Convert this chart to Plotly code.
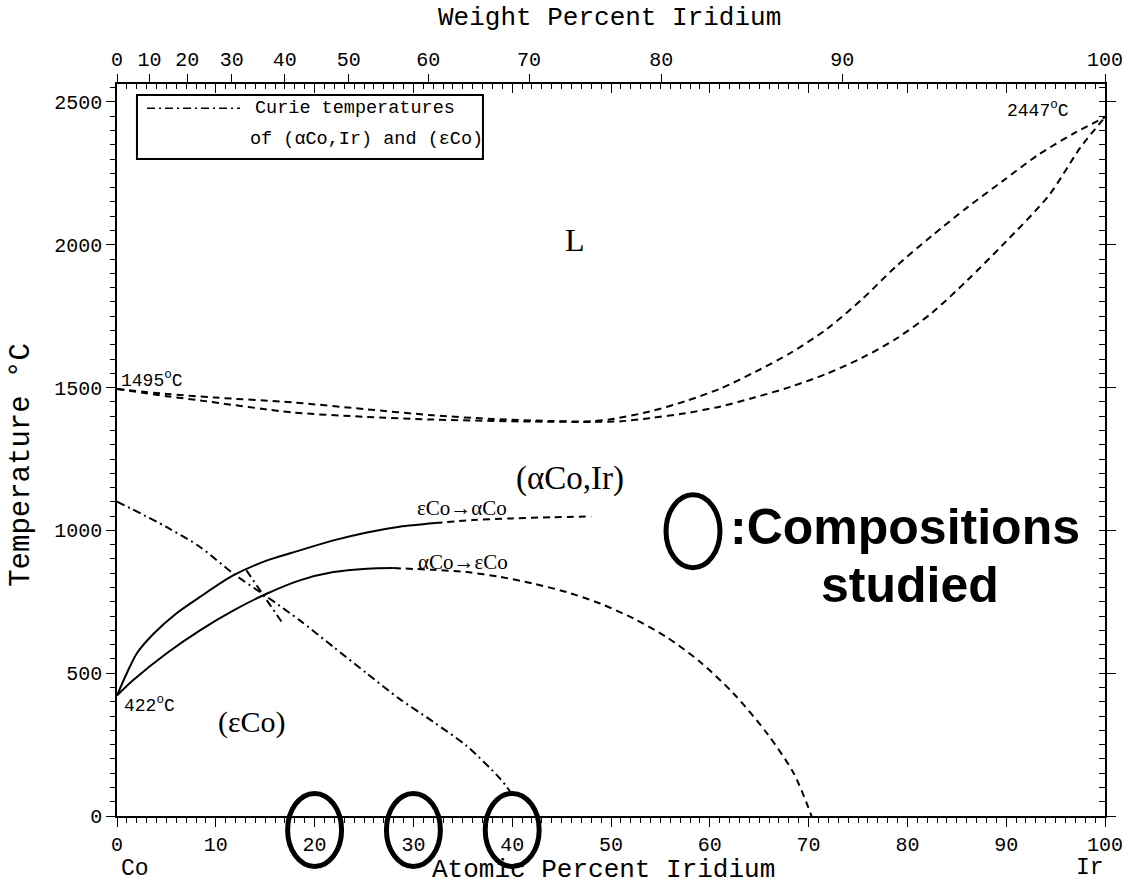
import plotly.graph_objects as go

# ---------------- data (atomic % Ir, temperature °C) ----------------
liq_x = [0, 5, 10, 17.8, 25, 32, 38, 44, 48, 50, 53.9, 57.5, 61.1, 64.6, 68.2, 71.8, 75.4, 78.9, 82.5, 86.1, 89.6, 93.2, 96.8, 100]
liq_T = [1495, 1478, 1465, 1448, 1425, 1403, 1390, 1383, 1382, 1389, 1416, 1452, 1497, 1555, 1622, 1704, 1809, 1926, 2032, 2132, 2222, 2314, 2389, 2447]

sol_x = [0, 5, 8.4, 17.8, 25, 32, 42, 48, 51, 53.9, 57.5, 61.1, 64.6, 68.2, 71.8, 75.4, 78.9, 82.5, 86.1, 89.6, 94.3, 97.5, 100]
sol_T = [1495, 1470, 1455, 1413, 1398, 1388, 1381, 1380, 1382, 1393, 1410, 1434, 1466, 1503, 1548, 1604, 1672, 1762, 1877, 1998, 2172, 2340, 2447]

e2a_solid_x = [0, 0.98, 2.0, 3.7, 6.0, 8.4, 11.8, 15.2, 18.5, 21.9, 25.3, 28.6, 32.2]
e2a_solid_T = [422, 499, 569, 638, 709, 767, 843, 895, 930, 965, 993, 1013, 1026]
e2a_dash_x = [32.2, 36, 40, 44, 48]
e2a_dash_T = [1026, 1036, 1042, 1046, 1049]

a2e_solid_x = [0, 1.65, 5.0, 8.4, 11.8, 15.2, 18.5, 21.9, 25.3, 28.0]
a2e_solid_T = [422, 476, 569, 650, 720, 779, 825, 854, 866, 868]
a2e_dash_x = [28.0, 32.0, 35.4, 38.8, 42.1, 45.5, 48.9, 52.3, 55.6, 59.0, 62.4, 65.8, 68.5, 70.3]
a2e_dash_T = [868, 862, 854, 837, 814, 784, 744, 691, 627, 540, 429, 289, 149, 0]

curie_x = [0, 5.0, 8.4, 11.8, 15.2, 18.5, 21.9, 25.3, 28.6, 32.0, 35.4, 38.8, 39.8]
curie_T = [1101, 1012, 942, 848, 767, 685, 592, 499, 410, 330, 245, 130, 85]
curie_eps_x = [13.1, 16.8]
curie_eps_T = [860, 673]

studied = [20, 30, 40]

at_ticks = list(range(0, 101, 10))
wt_ticks = list(range(0, 101, 10))
T_ticks = list(range(0, 2501, 500))

M_CO, M_IR = 58.933, 192.217


def wt_to_at(w):
    a = w / M_IR
    b = (100 - w) / M_CO
    return 100 * a / (a + b)


YMAX = 2563
MONO = "Liberation Mono"
SERIF = "Liberation Serif"
LW = 2
DASH = "7px,5px"
DASHDOT = "8px,4px,2px,4px"

fig = go.Figure()


def add(x, y, dash, smooth=True):
    fig.add_trace(go.Scatter(x=x, y=y, mode="lines",
                             line=dict(color="black", width=LW, dash=dash,
                                       shape="spline" if smooth else "linear", smoothing=0.8),
                             showlegend=False, hoverinfo="skip"))


add(liq_x, liq_T, DASH)
add(sol_x, sol_T, DASH)
add(e2a_solid_x, e2a_solid_T, "solid")
add(e2a_dash_x, e2a_dash_T, DASH)
add(a2e_solid_x, a2e_solid_T, "solid")
add(a2e_dash_x, a2e_dash_T, DASH)
add(curie_x, curie_T, DASHDOT)
add(curie_eps_x, curie_eps_T, DASHDOT, smooth=False)

# empty traces so the extra axes exist
fig.add_trace(go.Scatter(x=[], y=[], xaxis="x2", yaxis="y", showlegend=False))
fig.add_trace(go.Scatter(x=[], y=[], xaxis="x3", yaxis="y", showlegend=False))
fig.add_trace(go.Scatter(x=[], y=[], xaxis="x", yaxis="y2", showlegend=False))

axcommon = dict(showgrid=False, zeroline=False, showline=True, linecolor="black", linewidth=1.5,
                tickcolor="black", tickwidth=1.3)
TICKFONT = dict(family=MONO, size=20, color="black")

fig.update_layout(
    width=1134, height=886,
    margin=dict(l=117, r=29, t=84, b=70),
    paper_bgcolor="white", plot_bgcolor="white",
    xaxis=dict(range=[0, 100], tickvals=at_ticks, ticks="outside", ticklen=9,
               minor=dict(dtick=1, ticks="outside", ticklen=5, tickcolor="black"),
               tickfont=TICKFONT, **axcommon),
    xaxis2=dict(range=[0, 100], overlaying="x", side="top", anchor="y",
                tickvals=[wt_to_at(w) for w in wt_ticks], ticktext=[str(w) for w in wt_ticks],
                ticks="outside", ticklen=8, tickfont=TICKFONT, **axcommon),
    xaxis3=dict(range=[0, 100], overlaying="x", side="top", anchor="y",
                tickvals=at_ticks, ticks="inside", ticklen=9, showticklabels=False,
                minor=dict(dtick=1, ticks="inside", ticklen=5, tickcolor="black"), **axcommon),
    yaxis=dict(range=[0, YMAX], tickvals=T_ticks, ticks="outside", ticklen=9,
               minor=dict(dtick=50, ticks="outside", ticklen=5, tickcolor="black"),
               tickfont=TICKFONT, **axcommon),
    yaxis2=dict(range=[0, YMAX], overlaying="y", side="right", anchor="x",
                tickvals=T_ticks, ticks="outside", ticklen=9, showticklabels=False,
                minor=dict(dtick=50, ticks="inside", ticklen=6, tickcolor="black"), **axcommon),
)

ann = []


def txt(text, x, y, size, family=SERIF, xref="x", yref="y", xanchor="center", yanchor="middle",
        angle=0, bold=False):
    ann.append(dict(text=("<b>%s</b>" % text) if bold else text, x=x, y=y, xref=xref, yref=yref,
                    xanchor=xanchor, yanchor=yanchor, showarrow=False, textangle=angle,
                    font=dict(family=family, size=size, color="black")))


# axis titles
txt("Weight Percent Iridium", 0.498, 1.090, 26, MONO, "paper", "paper")
txt("Atomic Percent Iridium", 0.492, -0.074, 26, MONO, "paper", "paper")
txt("Temperature °C", -0.097, 0.48, 29, MONO, "paper", "paper", angle=-90)
txt("Co", 0.018, -0.072, 23, MONO, "paper", "paper")
txt("Ir", 0.985, -0.071, 23, MONO, "paper", "paper")

# phase-diagram labels
txt("1495<sup>o</sup>C", 0.2, 1527, 18, MONO, xanchor="left")
txt("422<sup>o</sup>C", 0.5, 389, 18, MONO, xanchor="left")
txt("2447<sup>o</sup>C", 96.6, 2472, 18, MONO, xanchor="right")
txt("L", 46.4, 2017, 32)
txt("(αCo,Ir)", 45.9, 1183, 33)
txt("εCo→αCo", 34.9, 1078, 21)
txt("αCo→εCo", 35.0, 889, 21)
txt("(εCo)", 13.7, 329, 30)

# legend box text
txt("Curie temperatures", 0.1377, 0.967, 18.5, MONO, "paper", "paper", xanchor="left")
txt("of (αCo,Ir) and (εCo)", 0.1326, 0.9235, 18.5, MONO, "paper", "paper", xanchor="left")

# compositions studied note
txt(":Compositions", 0.618, 0.395, 50, "Liberation Sans", "paper", "paper", xanchor="left", bold=True)
txt("studied", 0.803, 0.316, 50, "Liberation Sans", "paper", "paper", bold=True)

fig.update_layout(annotations=ann)

shapes = []
# legend box + sample line
shapes.append(dict(type="rect", xref="paper", yref="paper", x0=0.0202, x1=0.3704, y0=0.8975, y1=0.985,
                   line=dict(color="black", width=2)))
shapes.append(dict(type="line", xref="paper", yref="paper", x0=0.0304, x1=0.1245, y0=0.967, y1=0.967,
                   line=dict(color="black", width=1.5, dash=DASHDOT)))

# ellipses around studied compositions (paper coords derived from atomic %)
hw, hh, yc = 0.0273, 0.0499, -0.019
for c in studied:
    xc = c / 100.0
    shapes.append(dict(type="circle", xref="paper", yref="paper", x0=xc - hw, x1=xc + hw,
                       y0=yc - hh, y1=yc + hh, line=dict(color="black", width=5)))
# legend ellipse for the note
shapes.append(dict(type="circle", xref="paper", yref="paper", x0=0.583 - hw, x1=0.583 + hw,
                   y0=0.389 - hh, y1=0.389 + hh, line=dict(color="black", width=5)))
fig.update_layout(shapes=shapes)

fig.write_html("out.html")
